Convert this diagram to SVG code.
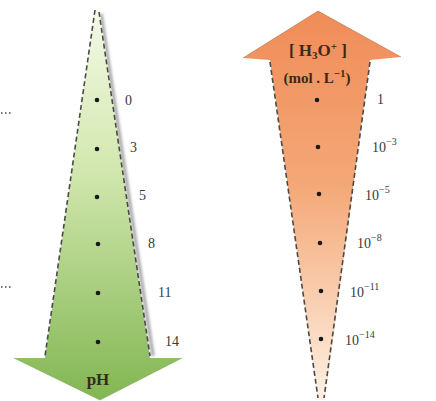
<svg xmlns="http://www.w3.org/2000/svg" width="436" height="401" viewBox="0 0 436 401">
<defs>
<linearGradient id="gGreen" x1="0" y1="0" x2="0" y2="1">
<stop offset="0" stop-color="#f4f9e6"/>
<stop offset="0.4" stop-color="#d3e8b0"/>
<stop offset="1" stop-color="#82b652"/>
</linearGradient>
<linearGradient id="gOrange" x1="0" y1="0" x2="0" y2="1">
<stop offset="0" stop-color="#f08c58"/>
<stop offset="0.45" stop-color="#f4a877"/>
<stop offset="1" stop-color="#fdf1e4"/>
</linearGradient>
<filter id="blur" x="-20%" y="-20%" width="140%" height="140%"><feGaussianBlur stdDeviation="1.5"/></filter>
</defs>
<style>
.dash{fill:none;stroke:#4a4a4a;stroke-width:1.6;stroke-dasharray:5 3}
.shadow{fill:none;stroke:#9a9a9a;stroke-width:3;filter:url(#blur)}
.dot{fill:#1a1a1a}
.lbl{font-family:"Liberation Serif",serif;font-size:14px;fill:#3a3a3a}
.sup{font-size:10px}
.ttl{font-family:"Liberation Serif",serif;font-weight:bold;fill:#3a2a1a}
.dots{fill:none;stroke:#444;stroke-width:1.5;stroke-dasharray:1.5 2.5}
</style>

<g id="ph-arrow">
<path class="shadow" d="M101,14 L153,356"/>
<path d="M95,10 L100,12 L150,358 L182,358 L100,400 L14,358 L45,358 Z" fill="url(#gGreen)"/>
<path d="M182,358 L100,400 L14,358" fill="none" stroke="#7aa85a" stroke-width="1" opacity="0.6"/>
<path class="dash" d="M95,10 L45,356"/>
<path class="dash" d="M99,12 L150,356"/>
<text class="ttl" x="98" y="385" font-size="17" text-anchor="middle" fill="#1e2a14">pH</text>
</g>

<g id="ph-ticks">
<circle class="dot" cx="97" cy="100" r="2.3"/>
<circle class="dot" cx="97" cy="149" r="2.3"/>
<circle class="dot" cx="97" cy="197" r="2.3"/>
<circle class="dot" cx="98" cy="244" r="2.3"/>
<circle class="dot" cx="98" cy="293" r="2.3"/>
<circle class="dot" cx="98" cy="342" r="2.3"/>
<text class="lbl" x="125" y="105">0</text>
<text class="lbl" x="130" y="152">3</text>
<text class="lbl" x="139" y="200">5</text>
<text class="lbl" x="148" y="248">8</text>
<text class="lbl" x="158" y="297">11</text>
<text class="lbl" x="165" y="346">14</text>
</g>

<g id="h3o-arrow">
<path d="M318,11 L401,57 L370,60 L325,400 L318,400 L270,60 L243,58 Z" fill="url(#gOrange)"/>
<path d="M243,58 L318,11 L401,57" fill="none" stroke="#b07050" stroke-width="1" opacity="0.6"/>
<path class="dash" d="M270,62 L318,398"/>
<path class="dash" d="M370,62 L324,398"/>
<text class="ttl" x="318" y="56" font-size="17" text-anchor="middle">[ H<tspan font-size="11" dy="3">3</tspan><tspan dy="-3">O</tspan><tspan font-size="11" dy="-6">+</tspan><tspan dy="6"> ]</tspan></text>
<text class="ttl" x="317" y="83" font-size="15" text-anchor="middle">(mol . L<tspan font-size="11" dy="-6">−1</tspan><tspan dy="6">)</tspan></text>
</g>

<g id="h3o-ticks">
<circle class="dot" cx="317" cy="100" r="2.3"/>
<circle class="dot" cx="318" cy="147" r="2.3"/>
<circle class="dot" cx="319" cy="194" r="2.3"/>
<circle class="dot" cx="320" cy="243" r="2.3"/>
<circle class="dot" cx="321" cy="291" r="2.3"/>
<circle class="dot" cx="321" cy="339" r="2.3"/>
<text class="lbl" x="377" y="104">1</text>
<text class="lbl" x="372" y="152">10<tspan class="sup" dy="-7">−3</tspan></text>
<text class="lbl" x="365" y="200">10<tspan class="sup" dy="-7">−5</tspan></text>
<text class="lbl" x="357" y="248">10<tspan class="sup" dy="-7">−8</tspan></text>
<text class="lbl" x="350" y="297">10<tspan class="sup" dy="-7">−11</tspan></text>
<text class="lbl" x="345" y="345">10<tspan class="sup" dy="-7">−14</tspan></text>
</g>

<g id="connectors">
<path class="dots" d="M1,113 L13,113"/>
<path class="dots" d="M1,287 L13,287"/>
</g>
</svg>
